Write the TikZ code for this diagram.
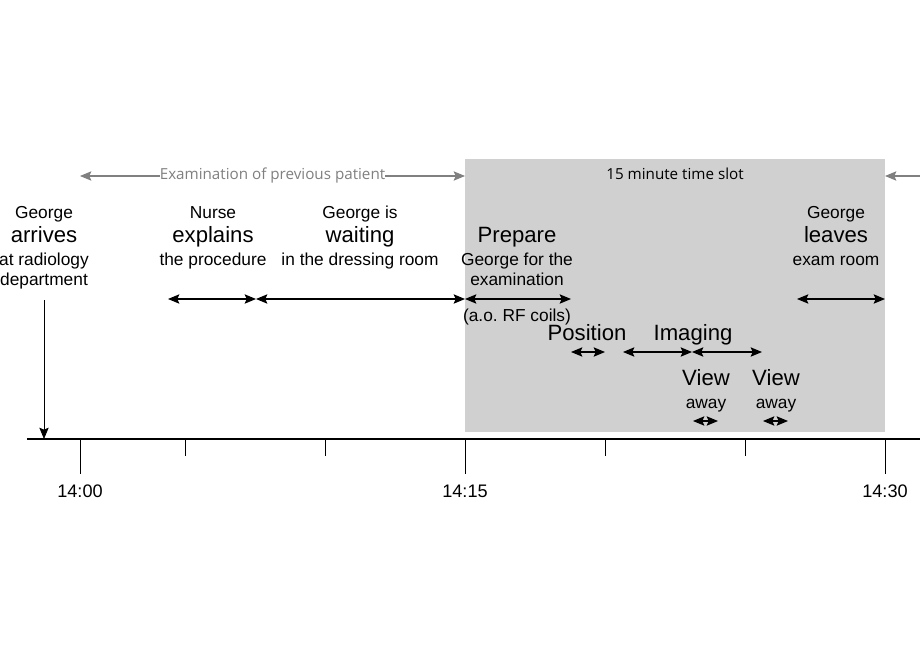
\documentclass[tikz,border=0pt]{standalone}
\usepackage{fontspec}
\setmainfont{Liberation Sans}
\newfontfamily\slotfont{Open Sans}
\usetikzlibrary{arrows.meta}
\definecolor{slotgray}{RGB}{208,208,208}
\definecolor{prevgray}{RGB}{128,128,128}
\frenchspacing

\tikzset{
	smalltxt/.style={font=\fontsize{13}{15}\selectfont, anchor=base, inner sep=0pt},
	bigtxt/.style={font=\fontsize{16.6}{19}\selectfont, anchor=base, inner sep=0pt},
	ticktxt/.style={font=\fontsize{13.6}{15}\selectfont, anchor=base, inner sep=0pt},
	slottxt/.style={font=\slotfont\fontsize{11.4}{13}\selectfont, inner sep=0pt},
	span/.style={<->, line width=0.9pt},
}

\begin{document}
\begin{tikzpicture}[x=0.75pt, y=-0.75pt, >={Stealth[length=8.5pt,width=7pt,inset=1.5pt]}]
				\useasboundingbox (0,0) rectangle (920,660);

				% Time slot background
				\fill[slotgray] (465,159) rectangle (885,432);
				\node[slottxt, anchor=base] (slot) at (675,179) {15 minute time slot};

				% Manual coordinate positions
				\coordinate (g0) at (80,176);
				\coordinate (g1) at (465,176);
				\coordinate (g2) at (920,176);
				\coordinate (g3) at (885,176);
				\coordinate (ax0) at (27,439);
				\coordinate (ax1) at (920,439);
				\coordinate (arr0) at (44,300);
				\coordinate (arr1) at (44,439);
				\coordinate (a0) at (168,299);
				\coordinate (a1) at (256,299);
				\coordinate (a2) at (465,299);
				\coordinate (a3) at (571,299);
				\coordinate (a4) at (797,299);
				\coordinate (a5) at (885,299);
				\coordinate (p0) at (571,352);
				\coordinate (p1) at (605,352);
				\coordinate (i0) at (623,352);
				\coordinate (i1) at (692,352);
				\coordinate (i2) at (762,352);
				\coordinate (v0) at (693,421);
				\coordinate (v1) at (718,421);
				\coordinate (w0) at (763,421);
				\coordinate (w1) at (788,421);

				% Previous patient
				\draw[<->, prevgray, line width=0.8pt] (g0) -- (g1) node[midway, fill=white, text=prevgray, slottxt] (prev) {Examination of previous patient};
				\draw[->, prevgray, line width=0.8pt] (g2) -- (g3);

				% Labels
				\node[smalltxt] (arrA) at (44,218) {George};
				\node[bigtxt] (arrB) at (44,242) {arrives};
				\node[smalltxt] (arrC) at (44,265) {at radiology};
				\node[smalltxt] (arrD) at (44,285) {department};
				\node[smalltxt] (expA) at (213,218) {Nurse};
				\node[bigtxt] (expB) at (213,242) {explains};
				\node[smalltxt] (expC) at (213,265) {the procedure};
				\node[smalltxt] (waiA) at (360,218) {George is};
				\node[bigtxt] (waiB) at (360,242) {waiting};
				\node[smalltxt] (waiC) at (360,265) {in the dressing room};
				\node[bigtxt] (preA) at (517,242) {Prepare};
				\node[smalltxt] (preB) at (517,265) {George for the};
				\node[smalltxt] (preC) at (517,285) {examination};
				\node[smalltxt] (preD) at (517,321) {(a.o. RF coils)};
				\node[smalltxt] (leaA) at (836,218) {George};
				\node[bigtxt] (leaB) at (836,242) {leaves};
				\node[smalltxt] (leaC) at (836,265) {exam room};
				\node[bigtxt] (pos) at (587,340) {Position};
				\node[bigtxt] (img) at (693,340) {Imaging};
				\node[bigtxt] (viwA) at (706,385) {View};
				\node[smalltxt] (viwB) at (706,408) {away};
				\node[bigtxt] (vixA) at (776,385) {View};
				\node[smalltxt] (vixB) at (776,408) {away};

				% Durations
				\draw[span] (a0) -- (a1);
				\draw[span] (a1) -- (a2);
				\draw[span] (a2) -- (a3);
				\draw[span] (a4) -- (a5);
				\draw[span] (p0) -- (p1);
				\draw[span] (i0) -- (i1);
				\draw[span] (i1) -- (i2);
				\draw[span] (v0) -- (v1);
				\draw[span] (w0) -- (w1);

				% Time axis
				\draw[line width=0.8pt] (ax0) -- (ax1);
				\draw[->, line width=0.6pt] (arr0) -- (arr1);
				\foreach \x in {80,465,885}
					\draw[line width=0.6pt] (\x,439) -- (\x,474);
				\foreach \x in {185,325,605,745}
					\draw[line width=0.6pt] (\x,439) -- (\x,456);
				\node[ticktxt] (t1400) at (80,497) {14:00};
				\node[ticktxt] (t1415) at (465,497) {14:15};
				\node[ticktxt] (t1430) at (885,497) {14:30};

			\end{tikzpicture}
\end{document}
